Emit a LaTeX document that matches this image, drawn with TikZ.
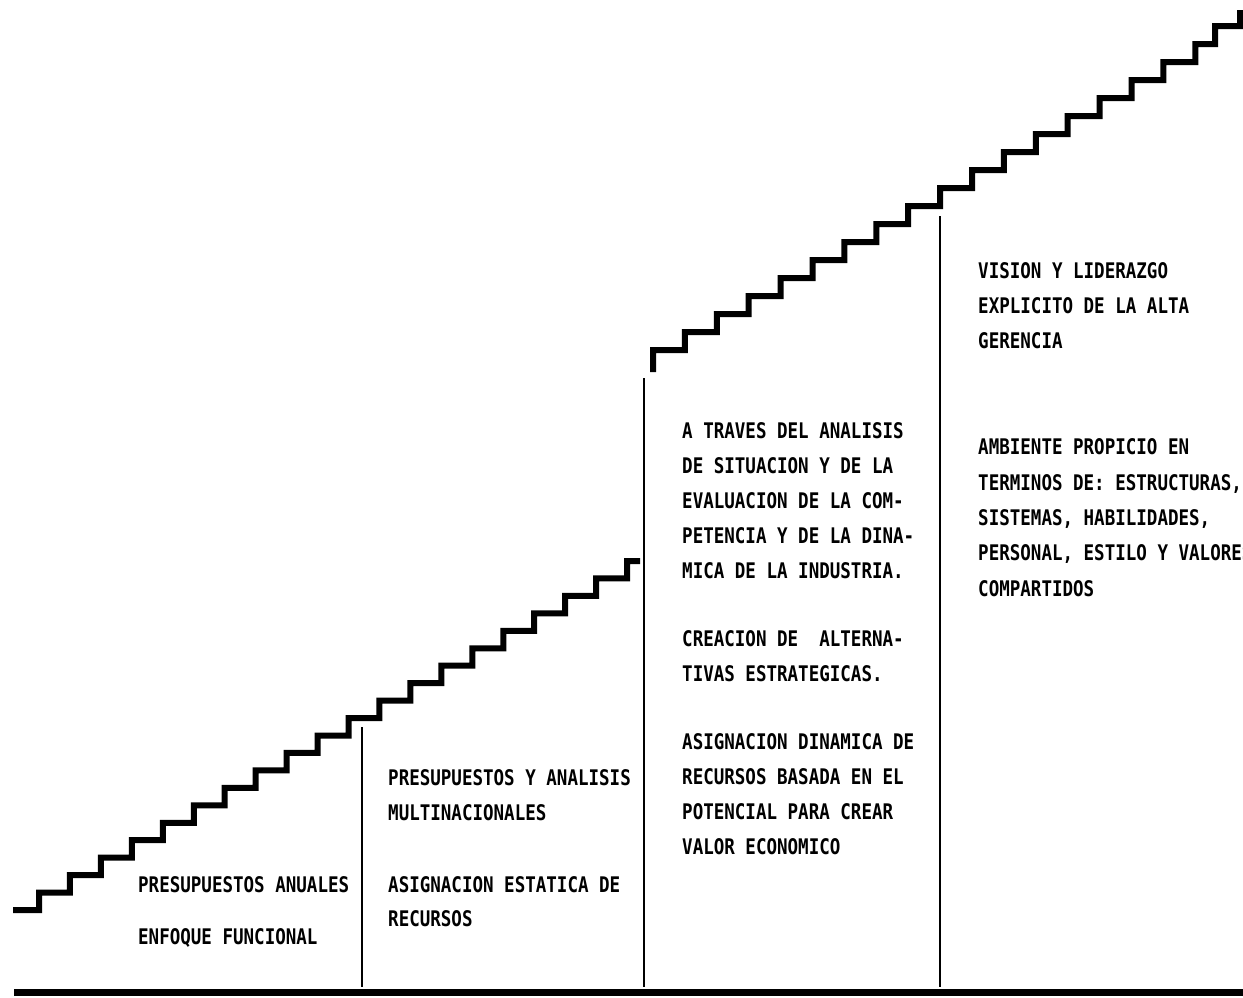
\documentclass[tikz,border=0pt]{standalone}
\usepackage{fontspec}
\newfontfamily\plotfont{DejaVu Sans Mono}[FakeStretch=0.815]
\tikzset{
  stair/.style={line width=6pt, line join=miter, line cap=butt, black},
  divider/.style={line width=2pt, black},
  baseline rule/.style={line width=7pt, black},
  txt/.style={anchor=base west, inner sep=0pt, font=\plotfont\bfseries\fontsize{21.5}{25}\selectfont}
}
\begin{document}
\begin{tikzpicture}[x=1pt,y=-1pt]
\useasboundingbox (0,0) rectangle (1243,997);
% lower staircase
\draw[stair] (13,910) -- (39,910)
  foreach \k in {0,...,18} { -- ({39+30.95*\k},{910-17.45*(\k+1)}) -- ({39+30.95*(\k+1)},{910-17.45*(\k+1)}) }
  -- (627.05,561) -- (640,561);
% upper staircase
\draw[stair] (653,372)
  foreach \k in {0,...,16} { -- ({653+31.9*\k},{350-18*\k}) -- ({653+31.9*(\k+1)},{350-18*\k}) }
  -- (1195.3,44) -- (1215,44) -- (1215,26) -- (1240,26) -- (1240,10);
% dividers
\coordinate (d1t) at (362,727);  \coordinate (d1b) at (362,987);
\coordinate (d2t) at (644,378);  \coordinate (d2b) at (644,987);
\coordinate (d3t) at (940,216);  \coordinate (d3b) at (940,987);
\draw[divider] (d1t) -- (d1b);
\draw[divider] (d2t) -- (d2b);
\draw[divider] (d3t) -- (d3b);
% bottom rule
\coordinate (gl) at (14,992); \coordinate (gr) at (1243,992);
\draw[baseline rule] (gl) -- (gr);
% column 1
\node[txt] (a1) at (138,892) {PRESUPUESTOS ANUALES};
\node[txt] (a2) at (138,944) {ENFOQUE FUNCIONAL};
% column 2
\node[txt] (b1) at (388,785) {PRESUPUESTOS Y ANALISIS};
\node[txt] (b2) at (388,820) {MULTINACIONALES};
\node[txt] (b3) at (388,892) {ASIGNACION ESTATICA DE};
\node[txt] (b4) at (388,926) {RECURSOS};
% column 3
\node[txt] (c1) at (682,438) {A TRAVES DEL ANALISIS};
\node[txt] (c2) at (682,473) {DE SITUACION Y DE LA};
\node[txt] (c3) at (682,508) {EVALUACION DE LA COM-};
\node[txt] (c4) at (682,543) {PETENCIA Y DE LA DINA-};
\node[txt] (c5) at (682,578) {MICA DE LA INDUSTRIA.};
\node[txt] (c6) at (682,646) {CREACION DE\ \ ALTERNA-};
\node[txt] (c7) at (682,681) {TIVAS ESTRATEGICAS.};
\node[txt] (c8) at (682,749) {ASIGNACION DINAMICA DE};
\node[txt] (c9) at (682,784) {RECURSOS BASADA EN EL};
\node[txt] (c10) at (682,819) {POTENCIAL PARA CREAR};
\node[txt] (c11) at (682,854) {VALOR ECONOMICO};
% column 4
\node[txt] (e1) at (978,278) {VISION Y LIDERAZGO};
\node[txt] (e2) at (978,313) {EXPLICITO DE LA ALTA};
\node[txt] (e3) at (978,348) {GERENCIA};
\node[txt] (e4) at (978,454) {AMBIENTE PROPICIO EN};
\node[txt] (e5) at (978,490) {TERMINOS DE: ESTRUCTURAS,};
\node[txt] (e6) at (978,525) {SISTEMAS, HABILIDADES,};
\node[txt] (e7) at (978,560) {PERSONAL, ESTILO Y VALORES};
\node[txt] (e8) at (978,596) {COMPARTIDOS};
\end{tikzpicture}
\end{document}
